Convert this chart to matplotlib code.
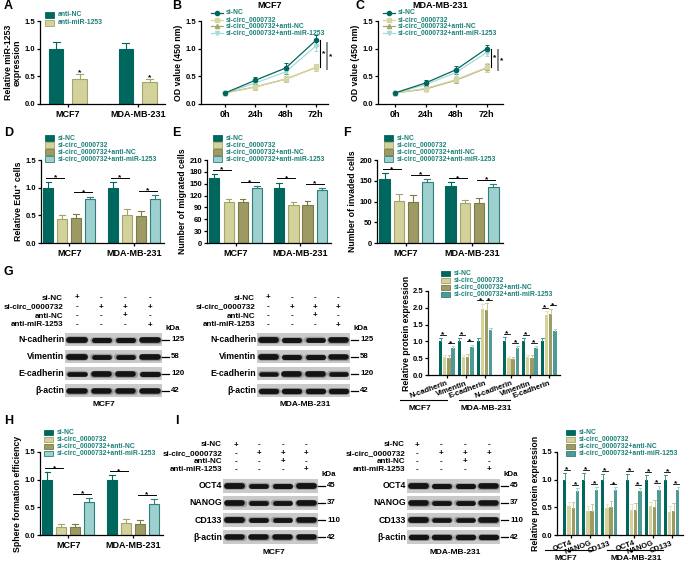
import matplotlib.pyplot as plt
from matplotlib.patches import Rectangle
from matplotlib.lines import Line2D

plt.rcParams['font.family'] = ['Liberation Sans', 'DejaVu Sans']
plt.rcParams['font.weight'] = 'bold'
plt.rcParams['axes.labelweight'] = 'bold'
plt.rcParams['axes.linewidth'] = 0.9
plt.rcParams['xtick.major.width'] = 0.9
plt.rcParams['ytick.major.width'] = 0.9
plt.rcParams['xtick.major.size'] = 2.5
plt.rcParams['ytick.major.size'] = 2.5
plt.rcParams['xtick.major.pad'] = 1.5
plt.rcParams['ytick.major.pad'] = 1.0

W, H = 685, 568

# ---------------- data ----------------
cells = ['MCF7', 'MDA-MB-231']
groups = ['si-NC', 'si-circ_0000732', 'si-circ_0000732+anti-NC',
          'si-circ_0000732+anti-miR-1253']
hours = ['0h', '24h', '48h', '72h']

# A: miR-1253 expression (series x cell line)
a_labels = ['anti-NC', 'anti-miR-1253']
a_mean = [[1.00, 1.00], [0.45, 0.40]]
a_err = [[0.12, 0.10], [0.09, 0.05]]

# B / C: OD value (series x time point)
b_mean = [[0.20, 0.43, 0.65, 1.15],
          [0.20, 0.31, 0.45, 0.66],
          [0.20, 0.31, 0.45, 0.66],
          [0.20, 0.38, 0.58, 1.05]]
b_err = [[0.03, 0.06, 0.10, 0.10],
         [0.02, 0.05, 0.06, 0.06],
         [0.02, 0.05, 0.06, 0.06],
         [0.02, 0.05, 0.07, 0.09]]
c_mean = [[0.20, 0.38, 0.62, 1.00],
          [0.20, 0.28, 0.44, 0.66],
          [0.20, 0.27, 0.43, 0.65],
          [0.20, 0.35, 0.57, 0.93]]
c_err = [[0.03, 0.06, 0.07, 0.06],
         [0.02, 0.04, 0.05, 0.08],
         [0.02, 0.04, 0.05, 0.08],
         [0.02, 0.05, 0.06, 0.07]]

# D, E, F, H (series x cell line)
d_mean = [[1.00, 1.00], [0.43, 0.51], [0.45, 0.49], [0.79, 0.80]]
d_err = [[0.10, 0.10], [0.07, 0.10], [0.07, 0.09], [0.05, 0.07]]
e_mean = [[165, 140], [104, 96], [104, 96], [138, 133]]
e_err = [[10, 13], [8, 8], [8, 10], [5, 6]]
f_mean = [[155, 138], [102, 96], [100, 96], [147, 134]]
f_err = [[13, 8], [16, 8], [15, 12], [8, 8]]
h_mean = [[1.00, 1.00], [0.14, 0.21], [0.15, 0.19], [0.60, 0.56]]
h_err = [[0.13, 0.08], [0.06, 0.08], [0.05, 0.09], [0.07, 0.09]]

# G: EMT proteins (series x [MCF7 N, Vim, E, MDA N, Vim, E])
g_names = ['N-cadherin', 'Vimentin', 'E-cadherin']
g_mean = [[1.00, 1.00, 1.00, 1.00, 1.00, 1.00],
          [0.53, 0.55, 1.97, 0.50, 0.53, 1.80],
          [0.52, 0.53, 1.93, 0.48, 0.52, 1.82],
          [0.80, 0.83, 1.33, 0.80, 0.80, 1.30]]
g_err = [[0.10, 0.10, 0.10, 0.12, 0.10, 0.10],
         [0.07, 0.06, 0.15, 0.07, 0.08, 0.10],
         [0.08, 0.10, 0.20, 0.06, 0.07, 0.15],
         [0.05, 0.07, 0.08, 0.06, 0.06, 0.08]]

# I: stemness proteins
i_names = ['OCT4', 'NANOG', 'CD133']
i_mean = [[1.00, 1.00, 1.00, 1.00, 1.00, 1.00],
          [0.52, 0.44, 0.49, 0.46, 0.52, 0.42],
          [0.49, 0.44, 0.51, 0.46, 0.51, 0.44],
          [0.80, 0.82, 0.81, 0.80, 0.82, 0.82]]
i_err = [[0.12, 0.12, 0.10, 0.10, 0.08, 0.08],
         [0.08, 0.08, 0.07, 0.10, 0.07, 0.10],
         [0.10, 0.12, 0.10, 0.12, 0.13, 0.13],
         [0.05, 0.05, 0.05, 0.05, 0.06, 0.05]]

# western blots
treat_labels = ['si-NC', 'si-circ_0000732', 'anti-NC', 'anti-miR-1253']
treat_signs = [['+', '-', '-', '-'], ['-', '+', '+', '+'],
               ['-', '-', '+', '-'], ['-', '-', '-', '+']]
g_rows = ['N-cadherin', 'Vimentin', 'E-cadherin', 'β-actin']
g_kda = ['125', '58', '120', '42']
g_bands_mcf7 = [[1.0, 0.75, 0.75, 0.95], [1.0, 0.7, 0.7, 0.95],
                [0.65, 0.95, 0.95, 0.75], [0.9, 0.9, 0.9, 0.9]]
g_bands_mda = [[1.0, 0.75, 0.7, 0.95], [1.0, 0.75, 0.75, 0.9],
               [0.6, 0.95, 0.95, 0.65], [0.85, 0.85, 0.85, 0.85]]
i_rows = ['OCT4', 'NANOG', 'CD133', 'β-actin']
i_kda = ['45', '37', '110', '42']
i_bands_mcf7 = [[1.0, 0.7, 0.75, 1.0], [0.95, 0.7, 0.7, 0.95],
                [1.0, 0.7, 0.7, 0.95], [0.9, 0.9, 0.9, 0.9]]
i_bands_mda = [[1.0, 0.75, 0.75, 0.95], [0.95, 0.7, 0.7, 0.9],
               [1.0, 0.65, 0.65, 0.95], [0.85, 0.85, 0.85, 0.85]]

# ---------------- colours ----------------
TEAL = '#00675e'
KHAKI, KHAKI_E = '#d2d29a', '#a3a36b'
OLIVE, OLIVE_E = '#9d9b63', '#7b7a48'
CYAN, CYAN_E = '#9dd0cf', '#2f7f79'
MTEAL = '#4e9b96'
LEG = '#1b8079'
FC4 = [TEAL, KHAKI, OLIVE, CYAN]
EC4 = [TEAL, KHAKI_E, OLIVE_E, CYAN_E]
LC = [TEAL, '#d6d6a0', '#a8a670', '#a8dada']
MK = ['o', 's', '^', 'v']

fig = plt.figure(figsize=(W / 100, H / 100), dpi=100)


def px_ax(x0, y0, x1, y1):
    return fig.add_axes([x0 / W, 1 - y1 / H, (x1 - x0) / W, (y1 - y0) / H])


def ftext(x, y, s, **kw):
    kw.setdefault('va', 'center')
    return fig.text(x / W, 1 - y / H, s, **kw)


def fline(x0, x1, y0, y1, **kw):
    fig.add_artist(Line2D([x0 / W, x1 / W], [1 - y0 / H, 1 - y1 / H],
                          transform=fig.transFigure, **kw))


def style(ax, top, step, fmt, ylabel, pad=2):
    for s in ['top', 'right']:
        ax.spines[s].set_visible(False)
    ticks = [i * step for i in range(int(round(top / step)) + 1)]
    ax.set_ylim(0, top)
    ax.set_yticks(ticks)
    ax.set_yticklabels([fmt.format(t) for t in ticks])
    ax.tick_params(axis='y', labelsize=5.5)
    ax.set_ylabel(ylabel, fontsize=6.3, labelpad=pad, linespacing=1.0)


def bar_legend(x, y, labels, fcs, ecs, dy=7):
    for i, lab in enumerate(labels):
        yy = y + i * dy
        fig.add_artist(Rectangle((x / W, 1 - (yy + 2.5) / H), 9 / W, 5 / H,
                                 transform=fig.transFigure, fc=fcs[i], ec=ecs[i], lw=0.6))
        ftext(x + 13, yy, lab, color=LEG, fontsize=4.9)


def line_legend(x, y, dy=6.5):
    for i, lab in enumerate(groups):
        yy = y + i * dy
        fline(x, x + 12, yy, yy, color=LC[i], lw=0.9)
        fig.add_artist(Line2D([(x + 6) / W], [1 - yy / H], transform=fig.transFigure,
                              marker=MK[i], ms=3, color=LC[i], ls='none'))
        ftext(x + 15, yy, lab, color=LEG, fontsize=4.9)


def star(ax, x, y):
    ax.annotate('*', (x, y), xytext=(0, -1.2), textcoords='offset points',
                ha='center', va='baseline', fontsize=6, annotation_clip=False)


def bar4(ax, means, errs, top):
    offs = [-0.325, -0.108, 0.108, 0.325]
    for s in range(4):
        for g in range(2):
            x = g + offs[s]
            m, e = means[s][g], errs[s][g]
            ax.bar(x, m, 0.155, color=FC4[s], edgecolor=EC4[s], lw=0.8)
            ax.plot([x, x], [m, m + e], color=EC4[s], lw=0.8)
            ax.plot([x - 0.045, x + 0.045], [m + e] * 2, color=EC4[s], lw=0.8)
    for g in range(2):
        for a, b in [(0, 1), (2, 3)]:
            yy = max(means[a][g] + errs[a][g], means[b][g] + errs[b][g]) + 0.05 * top
            ax.plot([g + offs[a] - 0.03, g + offs[b] + 0.03], [yy, yy], color='k', lw=0.7)
            star(ax, g + (offs[a] + offs[b]) / 2, yy)
    ax.set_xlim(-0.44, 1.47)
    ax.set_xticks([0, 1])
    ax.set_xticklabels(cells, fontsize=6.5)


def line_chart(ax, means, errs, xlim):
    for s in [3, 2, 1, 0]:
        ax.errorbar(range(4), means[s], yerr=errs[s], color=LC[s], marker=MK[s], ms=3,
                    lw=0.9, elinewidth=0.7, capsize=1.5, capthick=0.7)
    ax.plot([3.15, 3.15], [means[0][3], means[1][3]], color='k', lw=0.8, clip_on=False)
    ax.plot([3.37, 3.37], [means[3][3] + 0.05, means[2][3] - 0.03], color='#888888',
            lw=1.4, clip_on=False)
    ax.text(3.26, (means[0][3] + means[1][3]) / 2, '*', ha='center', va='center', fontsize=6)
    ax.text(3.48, (means[3][3] + means[2][3]) / 2, '*', ha='center', va='center', fontsize=6)
    ax.set_xlim(*xlim)
    ax.set_xticks(range(4))
    ax.set_xticklabels(hours, fontsize=6.5)
    style(ax, 1.5, 0.5, '{:.1f}', 'OD value (450 nm)')


def prot_chart(ax, means, errs, names, xs, top, xlim):
    offs = [-0.33, -0.11, 0.11, 0.33]
    fcs = [TEAL, KHAKI, OLIVE, MTEAL]
    errc = ['#3f9a92', '#e4e4bd', '#c8c79a', '#a5d6d3']
    for s in range(4):
        for k, x0 in enumerate(xs):
            x = x0 + offs[s]
            m, e = means[s][k], errs[s][k]
            ax.bar(x, m, 0.17, color=fcs[s], lw=0)
            ax.plot([x, x], [m, m + e], color=errc[s], lw=0.7)
            ax.plot([x - 0.07, x + 0.07], [m + e] * 2, color=errc[s], lw=0.7)
    for k, x0 in enumerate(xs):
        for a, b in [(0, 1), (2, 3)]:
            yy = max(means[a][k] + errs[a][k], means[b][k] + errs[b][k]) + 0.04 * top
            ax.plot([x0 + offs[a] - 0.05, x0 + offs[b] + 0.05], [yy, yy], color='k', lw=0.6)
            star(ax, x0 + (offs[a] + offs[b]) / 2, yy)
    ax.set_xlim(*xlim)
    ax.set_xticks(xs)
    ax.set_xticklabels(names * 2, rotation=20, ha='right', rotation_mode='anchor',
                       fontsize=5.5)
    ax.tick_params(axis='x', pad=1)
    style(ax, top, 0.5, '{:.1f}', 'Relative protein expression', pad=1)


def blot(x0, y0, x1, y1, rows, bands, kda, kda_x):
    ax = px_ax(x0, y0, x1, y1)
    n = len(rows)
    ax.set_xlim(0, 4)
    ax.set_ylim(n, 0)
    ax.axis('off')
    rh = (y1 - y0) / n
    for r in range(n):
        ax.add_patch(Rectangle((0, r + 0.09), 4, 0.82, fc='#cacaca', ec='none'))
        for lane in range(4):
            w = bands[r][lane]
            ax.plot([lane + 0.16, lane + 0.84], [r + 0.5] * 2, color='#555555',
                    lw=2.8 + 2.6 * w, solid_capstyle='round', alpha=0.4)
            ax.plot([lane + 0.18, lane + 0.82], [r + 0.5] * 2, color='#141414',
                    lw=1.8 + 2.4 * w, solid_capstyle='round')
        ax.text(-0.04, r + 0.5, rows[r], ha='right', va='center', fontsize=6.3, clip_on=False)
        yy = y0 + (r + 0.5) * rh
        fline(kda_x, kda_x + 7, yy, yy, color='k', lw=0.9)
        ftext(kda_x + 9, yy, kda[r], fontsize=5.7)
    ftext(kda_x + 3, y0 - 3, 'kDa', fontsize=5.7)


def blot_header(xr, y, lane_xs, dy=9):
    for i, lab in enumerate(treat_labels):
        ftext(xr, y + i * dy, lab, ha='right', fontsize=5.8)
        for lx, sg in zip(lane_xs, treat_signs[i]):
            ftext(lx, y + i * dy, sg, ha='center', fontsize=5.8)


# ---------------- A ----------------
ax = px_ax(40, 21, 165, 104)
for s in range(2):
    for g in range(2):
        x = g + (-0.17 if s == 0 else 0.17)
        m, e = a_mean[s][g], a_err[s][g]
        fc, ec = (TEAL, TEAL) if s == 0 else (KHAKI, KHAKI_E)
        ax.bar(x, m, 0.21, color=fc, edgecolor=ec, lw=0.8)
        ax.plot([x, x], [m, m + e], color=ec, lw=0.8)
        ax.plot([x - 0.05, x + 0.05], [m + e] * 2, color=ec, lw=0.8)
        if s == 1:
            star(ax, x, m + e + 0.02)
ax.set_xlim(-0.4, 1.39)
ax.set_xticks([0, 1])
ax.set_xticklabels(cells, fontsize=6.5)
style(ax, 1.5, 0.5, '{:.1f}', 'Relative miR-1253\nexpression')
bar_legend(45, 15, a_labels, [TEAL, KHAKI], [TEAL, KHAKI_E], dy=8)

# ---------------- B / C ----------------
ax = px_ax(201, 21, 328, 104)
line_chart(ax, b_mean, b_err, (-0.8, 3.4))
ftext(270, 6, 'MCF7', ha='center', fontsize=6.5)
line_legend(211, 13)

ax = px_ax(378, 21, 503, 104)
line_chart(ax, c_mean, c_err, (-0.56, 3.54))
ftext(440, 6, 'MDA-MB-231', ha='center', fontsize=6.5)
line_legend(383, 13)

# ---------------- D / E / F ----------------
ax = px_ax(41, 160, 164, 243)
bar4(ax, d_mean, d_err, 1.5)
style(ax, 1.5, 0.5, '{:.1f}', 'Relative Edu⁺ cells')
bar_legend(45, 138, groups, FC4, EC4)

ax = px_ax(207, 160, 331, 243)
bar4(ax, e_mean, e_err, 210)
style(ax, 210, 30, '{:.0f}', 'Number of migrated cells')
bar_legend(213, 138, groups, FC4, EC4)

ax = px_ax(377, 160, 503, 243)
bar4(ax, f_mean, f_err, 200)
style(ax, 200, 50, '{:.0f}', 'Number of invaded cells')
bar_legend(384, 138, groups, FC4, EC4)

# ---------------- G ----------------
blot_header(63, 298, [77, 101, 125, 150])
blot(65, 331, 162, 399, g_rows, g_bands_mcf7, g_kda, 162)
ftext(104, 405, 'MCF7', ha='center', fontsize=6)
blot_header(255, 298, [268, 292, 315, 338])
blot(257, 331, 350, 399, g_rows, g_bands_mda, g_kda, 351)
ftext(305, 405, 'MDA-MB-231', ha='center', fontsize=6)

ax = px_ax(428, 291, 560, 375)
prot_chart(ax, g_mean, g_err, g_names, [0, 1, 2, 3.4, 4.4, 5.4], 2.5, (-1.0, 6.0))
fline(400, 447, 400, 400, color='k', lw=0.8)
ftext(420, 408, 'MCF7', ha='center', fontsize=6)
fline(459, 510, 400, 400, color='k', lw=0.8)
ftext(486, 408, 'MDA-MB-231', ha='center', fontsize=6)
bar_legend(441, 273, groups, [TEAL, KHAKI, OLIVE, MTEAL], [TEAL, KHAKI_E, OLIVE_E, CYAN_E])

# ---------------- H ----------------
ax = px_ax(40, 452, 163, 535)
bar4(ax, h_mean, h_err, 1.5)
style(ax, 1.5, 0.5, '{:.1f}', 'Sphere formation efficiency')
bar_legend(44, 432, groups, FC4, EC4)

# ---------------- I ----------------
blot_header(222, 445, [236, 259, 283, 306], dy=8.3)
blot(223, 477, 318, 546, i_rows, i_bands_mcf7, i_kda, 318)
ftext(274, 553, 'MCF7', ha='center', fontsize=6)
blot_header(405, 445, [417, 441, 465, 489], dy=8.3)
blot(407, 477, 500, 546, i_rows, i_bands_mda, i_kda, 501)
ftext(455, 553, 'MDA-MB-231', ha='center', fontsize=6)

ax = px_ax(557, 452, 683, 535)
prot_chart(ax, i_mean, i_err, i_names, [0, 1, 2, 3.3, 4.3, 5.3], 1.5, (-0.74, 5.9))
fline(545, 592, 550, 550, color='k', lw=0.8)
ftext(566, 558, 'MCF7', ha='center', fontsize=6)
fline(607, 663, 550, 550, color='k', lw=0.8)
ftext(636, 558, 'MDA-MB-231', ha='center', fontsize=6)
bar_legend(566, 432, groups, [TEAL, KHAKI, OLIVE, MTEAL], [TEAL, KHAKI_E, OLIVE_E, CYAN_E])

# ---------------- panel letters ----------------
for lab, x, y in [('A', 4, 6), ('B', 172, 6), ('C', 356, 6), ('D', 4, 133), ('E', 172, 133),
                  ('F', 343, 133), ('G', 4, 272), ('H', 4, 421), ('I', 175, 421)]:
    ftext(x, y, lab, fontsize=9)

fig.savefig('out.png', dpi=100)
